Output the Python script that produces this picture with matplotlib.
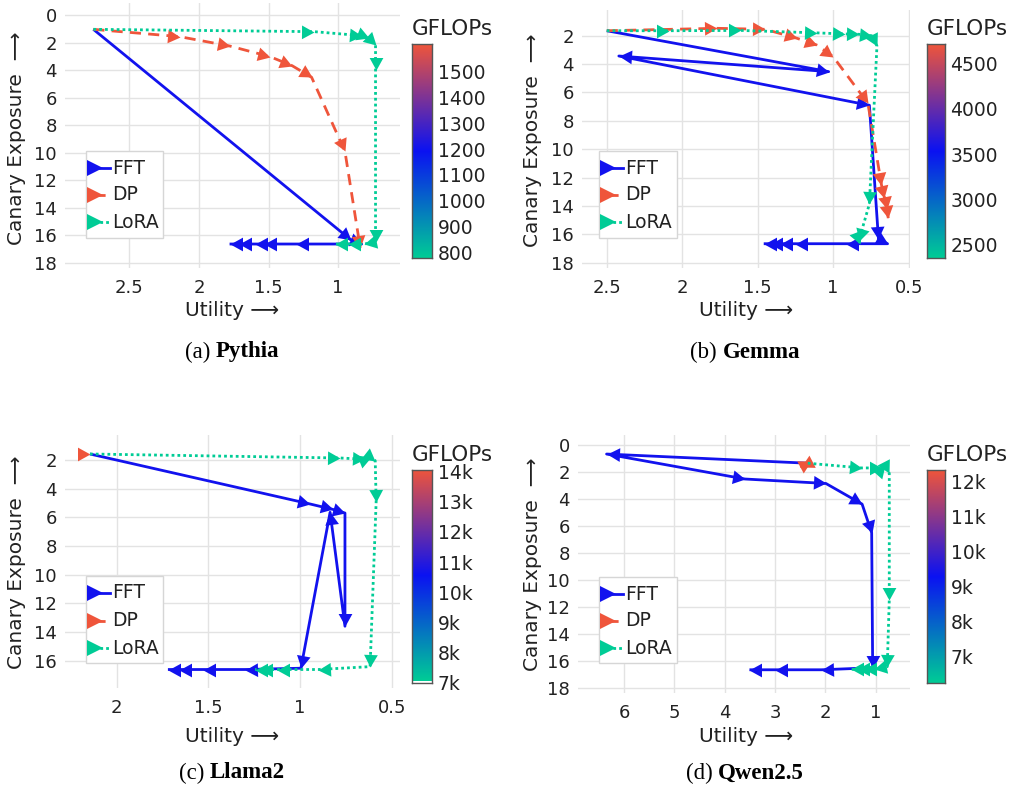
import numpy as np
import matplotlib
matplotlib.use('Agg')
import matplotlib.pyplot as plt
from matplotlib.markers import MarkerStyle
from matplotlib.path import Path
from matplotlib.transforms import Affine2D
from matplotlib.colors import LinearSegmentedColormap
from matplotlib.lines import Line2D
from matplotlib.patches import Rectangle

# ---------------- data ----------------
methods = ["FFT", "DP", "LoRA"]

pythia_fft_u = [2.76, 0.91, 0.83, 1.30, 1.53, 1.60, 1.71, 1.78]
pythia_fft_e = [1.04, 16.3, 16.62, 16.62, 16.62, 16.62, 16.62, 16.62]
pythia_dp_u = [2.76, 2.14, 1.78, 1.49, 1.33, 1.19, 0.95, 0.84]
pythia_dp_e = [1.04, 1.57, 2.25, 3.02, 3.68, 4.52, 9.9, 16.9]
pythia_lora_u = [2.76, 1.17, 0.83, 0.78, 0.73, 0.73, 0.73, 0.81, 0.93, 1.02]
pythia_lora_e = [1.04, 1.21, 1.50, 1.70, 2.18, 3.99, 16.45, 16.62, 16.62, 16.62]

gemma_fft_u = [2.5, 1.03, 2.42, 0.76, 0.70, 0.64, 0.915, 1.25, 1.35, 1.42, 1.46]
gemma_fft_e = [1.65, 4.53, 3.43, 6.9, 16.3, 16.65, 16.65, 16.65, 16.65, 16.65, 16.65]
gemma_dp_u = [2.5, 1.77, 1.45, 1.24, 1.11, 1.00, 0.77, 0.68, 0.66, 0.645, 0.635]
gemma_dp_e = [1.65, 1.48, 1.55, 2.18, 2.65, 3.48, 6.76, 12.5, 13.4, 14.2, 14.85]
gemma_lora_u = [2.5, 2.09, 1.61, 1.11, 0.92, 0.83, 0.745, 0.71, 0.76, 0.83, 0.82]
gemma_lora_e = [1.65, 1.65, 1.63, 1.80, 1.88, 1.90, 2.0, 2.72, 13.85, 16.43, 16.7]

llama_fft_u = [2.145, 0.945, 0.82, 0.755, 0.755, 0.836, 0.995, 1.30, 1.53, 1.66, 1.72]
llama_fft_e = [1.58, 5.07, 5.45, 5.7, 13.6, 5.65, 16.53, 16.62, 16.62, 16.62, 16.62]
llama_dp_u = [2.145]
llama_dp_e = [1.58]
llama_lora_u = [2.145, 0.78, 0.645, 0.615, 0.59, 0.585, 0.618, 0.90, 1.127, 1.22, 1.245]
llama_lora_e = [1.58, 1.86, 1.95, 1.80, 2.05, 4.9, 16.42, 16.62, 16.62, 16.62, 16.62]

qwen_fft_u = [2.35, 6.35, 3.6, 1.99, 1.27, 1.08, 1.06, 2.08, 3.0, 3.51]
qwen_fft_e = [1.35, 0.67, 2.52, 2.85, 4.38, 6.5, 16.5, 16.65, 16.65, 16.65]
qwen_dp_u = [2.35, 2.48, 2.28]
qwen_dp_e = [1.35, 1.6, 1.2]
qwen_lora_u = [2.35, 1.28, 0.88, 0.82, 0.73, 0.73, 0.77, 1.03, 1.23, 1.37, 1.50]
qwen_lora_e = [1.35, 1.70, 1.70, 1.45, 2.1, 11.45, 16.42, 16.62, 16.62, 16.62, 16.62]

pythia_cb_ticks = [800, 900, 1000, 1100, 1200, 1300, 1400, 1500]
pythia_cb_labels = ["800", "900", "1000", "1100", "1200", "1300", "1400", "1500"]
gemma_cb_ticks = [2500, 3000, 3500, 4000, 4500]
gemma_cb_labels = ["2500", "3000", "3500", "4000", "4500"]
llama_cb_ticks = [7000, 8000, 9000, 10000, 11000, 12000, 13000, 14000]
llama_cb_labels = ["7k", "8k", "9k", "10k", "11k", "12k", "13k", "14k"]
qwen_cb_ticks = [7000, 8000, 9000, 10000, 11000, 12000]
qwen_cb_labels = ["7k", "8k", "9k", "10k", "11k", "12k"]

# ---------------- style ----------------
W, H = 1016, 794
C_FFT = "#1212EE"
C_DP = "#EF553B"
C_LORA = "#00CC96"
TXT = "#222222"
GRID = "#e3e3e3"
LS_FFT = "-"
LS_DP = (0, (4.0, 2.6))
LS_LORA = (0, (1.0, 1.1))
LW = 2.0
MS = 18

plt.rcParams['font.family'] = ['DejaVu Sans']
fig = plt.figure(figsize=(W / 100, H / 100), dpi=100)
fig.patch.set_facecolor('white')

cmap = LinearSegmentedColormap.from_list("gf", [C_LORA, "#0B12F2", C_DP])


def fx(px):
    return px / W


def fy(py):
    return 1 - py / H


TRI = Path([(0, 0), (-1, 0.55), (-1, -0.55), (0, 0)],
           [Path.MOVETO, Path.LINETO, Path.LINETO, Path.CLOSEPOLY])


def draw_series(ax, u, e, color, ls, z):
    ax.plot(u, e, color=color, ls=ls, lw=LW, zorder=z, clip_on=False,
            solid_capstyle='butt', dash_capstyle='butt')
    pts = ax.transData.transform(np.column_stack([u, e]))
    if len(u) == 1:
        idx = [0]
    else:
        idx = range(1, len(u))
    for i in idx:
        if i == 0:
            ang = 0.0
        else:
            d = pts[i] - pts[i - 1]
            ang = np.arctan2(d[1], d[0])
        m = MarkerStyle(TRI, transform=Affine2D().rotate(ang))
        ax.plot([u[i]], [e[i]], marker=m, ms=MS, mew=0, color=color,
                ls='none', zorder=z + 0.5, clip_on=False)


def panel(rect, xlim, ylim, xticks, xtl, yticks, series, cb_rect, cb_rng,
          cb_ticks, cb_labels, leg_rect, leg_ys, xlab_pos, ylab_pos,
          cap_pos, cap_letter, cap_name):
    l, t, r, b = rect
    ax = fig.add_axes([fx(l), fy(b), (r - l) / W, (b - t) / H])
    ax.set_xlim(*xlim)
    ax.set_ylim(*ylim)
    ax.set_xticks(xticks)
    ax.set_xticklabels(xtl)
    ax.set_yticks(yticks)
    ax.set_yticklabels([str(v) for v in yticks])
    for s in ax.spines.values():
        s.set_visible(False)
    ax.grid(True, color=GRID, lw=1.0)
    ax.set_axisbelow(True)
    ax.tick_params(length=0, labelsize=13, colors=TXT, pad=8)
    ax.tick_params(axis='y', pad=6)
    for k, (u, e, c, ls) in enumerate(series):
        draw_series(ax, u, e, c, ls, 3 + k)
    # axis titles
    fig.text(fx(xlab_pos[0]), fy(xlab_pos[1]), "Utility \u27f6", ha='center',
             va='center', fontsize=14.5, color=TXT)
    fig.text(fx(ylab_pos[0]), fy(ylab_pos[1]), "Canary Exposure  \u27f6",
             ha='center', va='center', rotation=90, fontsize=14.5, color=TXT)
    # colorbar
    cl, ct, cr, cbm = cb_rect
    cax = fig.add_axes([fx(cl), fy(cbm), (cr - cl) / W, (cbm - ct) / H])
    grad = np.linspace(cb_rng[0], cb_rng[1], 256).reshape(-1, 1)
    cax.imshow(grad, aspect='auto', cmap=cmap, origin='lower',
               extent=[0, 1, cb_rng[0], cb_rng[1]],
               vmin=cb_rng[0], vmax=cb_rng[1])
    cax.set_xlim(0, 1)
    cax.set_ylim(*cb_rng)
    cax.set_xticks([])
    cax.yaxis.tick_right()
    cax.set_yticks(cb_ticks)
    cax.set_yticklabels(cb_labels)
    cax.tick_params(length=0, labelsize=13.5, colors=TXT, pad=4)
    for s in cax.spines.values():
        s.set_color('#555555')
        s.set_linewidth(1.0)
    fig.text(fx(cl), fy(ct - 5), "GFLOPs", ha='left', va='bottom',
             fontsize=15.5, color=TXT)
    # legend
    ll, lt, lr, lb = leg_rect
    fig.add_artist(Rectangle((fx(ll), fy(lb)), (lr - ll) / W, (lb - lt) / H,
                             transform=fig.transFigure, fc='white',
                             ec='#d6d6d6', lw=1.0, zorder=10))
    for (name, c, ls), yy in zip(
            [("FFT", C_FFT, LS_FFT), ("DP", C_DP, LS_DP),
             ("LoRA", C_LORA, LS_LORA)], leg_ys):
        fig.add_artist(Line2D([fx(ll + 8), fx(ll + 24)], [fy(yy), fy(yy)],
                              transform=fig.transFigure, color=c, ls=ls,
                              lw=LW, zorder=11))
        fig.add_artist(Line2D([fx(ll + 9)], [fy(yy)], transform=fig.transFigure,
                              marker='>', ms=11, mew=0, color=c, ls='none',
                              zorder=12))
        fig.text(fx(ll + 26), fy(yy), name, ha='left', va='center',
                 fontsize=13.5, color=TXT, zorder=12)
    # caption
    renderer = fig.canvas.get_renderer()
    t1 = fig.text(0, 0, "(" + cap_letter + ") ", fontsize=16.5,
                  family='Liberation Serif', color='black')
    t2 = fig.text(0, 0, cap_name, fontsize=16.5, family='Liberation Serif',
                  weight='bold', color='black')
    w1 = t1.get_window_extent(renderer).width
    w2 = t2.get_window_extent(renderer).width
    x0 = cap_pos[0] - (w1 + w2) / 2
    t1.set_position((fx(x0), fy(cap_pos[1])))
    t1.set_va('center')
    t2.set_position((fx(x0 + w1), fy(cap_pos[1])))
    t2.set_va('center')
    return ax


panel((65, 3, 400, 268), (2.964, 0.554), (18.36, -0.87),
      [2.5, 2, 1.5, 1], ["2.5", "2", "1.5", "1"], list(range(0, 19, 2)),
      [(pythia_fft_u, pythia_fft_e, C_FFT, LS_FFT),
       (pythia_dp_u, pythia_dp_e, C_DP, LS_DP),
       (pythia_lora_u, pythia_lora_e, C_LORA, LS_LORA)],
      (412, 44, 432, 258), (780, 1605), pythia_cb_ticks, pythia_cb_labels,
      (86, 151, 163, 238), (168, 195, 222), (232, 311), (17, 138),
      (232, 352), "a", "Pythia")

panel((582, 10, 910, 268), (2.664, 0.491), (18.36, 0.19),
      [2.5, 2, 1.5, 1, 0.5], ["2.5", "2", "1.5", "1", "0.5"],
      list(range(2, 19, 2)),
      [(gemma_fft_u, gemma_fft_e, C_FFT, LS_FFT),
       (gemma_dp_u, gemma_dp_e, C_DP, LS_DP),
       (gemma_lora_u, gemma_lora_e, C_LORA, LS_LORA)],
      (927, 44, 945, 258), (2357, 4709), gemma_cb_ticks, gemma_cb_labels,
      (599, 151, 677, 238), (168, 195, 222), (746, 311), (532, 140),
      (745, 352), "b", "Gemma")

panel((65, 435, 400, 688), (2.281, 0.455), (17.91, 0.255),
      [2, 1.5, 1, 0.5], ["2", "1.5", "1", "0.5"], list(range(2, 17, 2)),
      [(llama_fft_u, llama_fft_e, C_FFT, LS_FFT),
       (llama_dp_u, llama_dp_e, C_DP, LS_DP),
       (llama_lora_u, llama_lora_e, C_LORA, LS_LORA)],
      (412, 470, 432, 683), (7050, 14050), llama_cb_ticks, llama_cb_labels,
      (86, 576, 163, 663), (593, 621, 648), (232, 737), (17, 562),
      (232, 773), "c", "Llama2")

panel((578, 435, 910, 693), (6.918, 0.318), (18.37, -0.74),
      [6, 5, 4, 3, 2, 1], ["6", "5", "4", "3", "2", "1"],
      list(range(0, 19, 2)),
      [(qwen_fft_u, qwen_fft_e, C_FFT, LS_FFT),
       (qwen_dp_u, qwen_dp_e, C_DP, LS_DP),
       (qwen_lora_u, qwen_lora_e, C_LORA, LS_LORA)],
      (927, 470, 945, 683), (6240, 12330), qwen_cb_ticks, qwen_cb_labels,
      (599, 577, 677, 663), (594, 621, 648), (746, 737), (532, 564),
      (745, 773), "d", "Qwen2.5")

fig.savefig("out.png", dpi=100, facecolor='white')
